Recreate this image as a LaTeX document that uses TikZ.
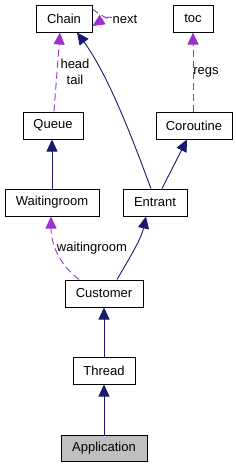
\documentclass[tikz,border=0pt]{standalone}
\usepackage{fontspec}
\setmainfont{Liberation Sans}
\usetikzlibrary{arrows.meta}
\definecolor{navyedge}{HTML}{191970}
\definecolor{purpleedge}{HTML}{9A32CD}
\begin{document}
\begin{tikzpicture}[x=1pt,y=-1pt,
  box/.style={draw=black,line width=1pt,rectangle,inner sep=0pt,minimum height=27pt,font=\fontsize{13pt}{15pt}\selectfont},
  inherit/.style={draw=navyedge,line width=0.9pt,-{Triangle[width=11pt,length=12pt]}},
  usage/.style={draw=purpleedge,line width=0.9pt,dashed,dash pattern=on 7pt off 4pt,-{Triangle[width=11pt,length=12pt]}},
  lbl/.style={font=\fontsize{13pt}{16pt}\selectfont,inner sep=0pt,align=center}]
\useasboundingbox (0,0) rectangle (236,467);
\node[box,minimum width=56pt] (chain) at (64,18.5) {Chain};
\node[box,minimum width=40pt] (toc) at (193,18.5) {toc};
\node[box,minimum width=60pt] (queue) at (53,125.5) {Queue};
\node[box,minimum width=76pt] (coroutine) at (194,125.5) {Coroutine};
\node[box,minimum width=94pt] (waitingroom) at (52,202.5) {Waitingroom};
\node[box,minimum width=64pt] (entrant) at (155,202.5) {Entrant};
\node[box,minimum width=78pt] (customer) at (104,293.5) {Customer};
\node[box,minimum width=62pt] (thread) at (104,370.5) {Thread};
\node[box,minimum width=86pt,minimum height=26pt,fill={rgb,255:red,191;green,191;blue,191}] (application) at (104,448.5) {Application};
% edges
\draw[usage] ([xshift=1pt]queue.north) -- ([xshift=-4pt]chain.south);
\node[lbl] (headtail) at (75,71.5) {head\\tail};
\draw[usage] ([yshift=9.5pt]chain.east) .. controls (116,28) and (116,11) .. ([yshift=-7.5pt]chain.east);
\node[lbl] (nextlbl) at (125,19) {next};
\draw[usage] ([xshift=-1pt]coroutine.north) -- (toc.south);
\node[lbl] (regslbl) at (206,72) {regs};
\draw[inherit] ([xshift=-4pt]entrant.north) .. controls (140,160) and (112,80) .. ([xshift=13pt]chain.south);
\draw[inherit] ([xshift=7pt]entrant.north) -- ([xshift=-7pt]coroutine.south);
\draw[inherit] (waitingroom.north) -- ([xshift=-1pt]queue.south);
\draw[usage] ([xshift=-25pt]customer.north) .. controls (60,265) and (51,245) .. ([xshift=-1pt]waitingroom.south);
\node[lbl] (wrlbl) at (92,248) {waitingroom};
\draw[inherit] ([xshift=13pt]customer.north) .. controls (127,262) and (141,240) .. ([xshift=-9pt]entrant.south);
\draw[inherit] (thread.north) -- (customer.south);
\draw[inherit] (application.north) -- (thread.south);
\end{tikzpicture}
\end{document}
